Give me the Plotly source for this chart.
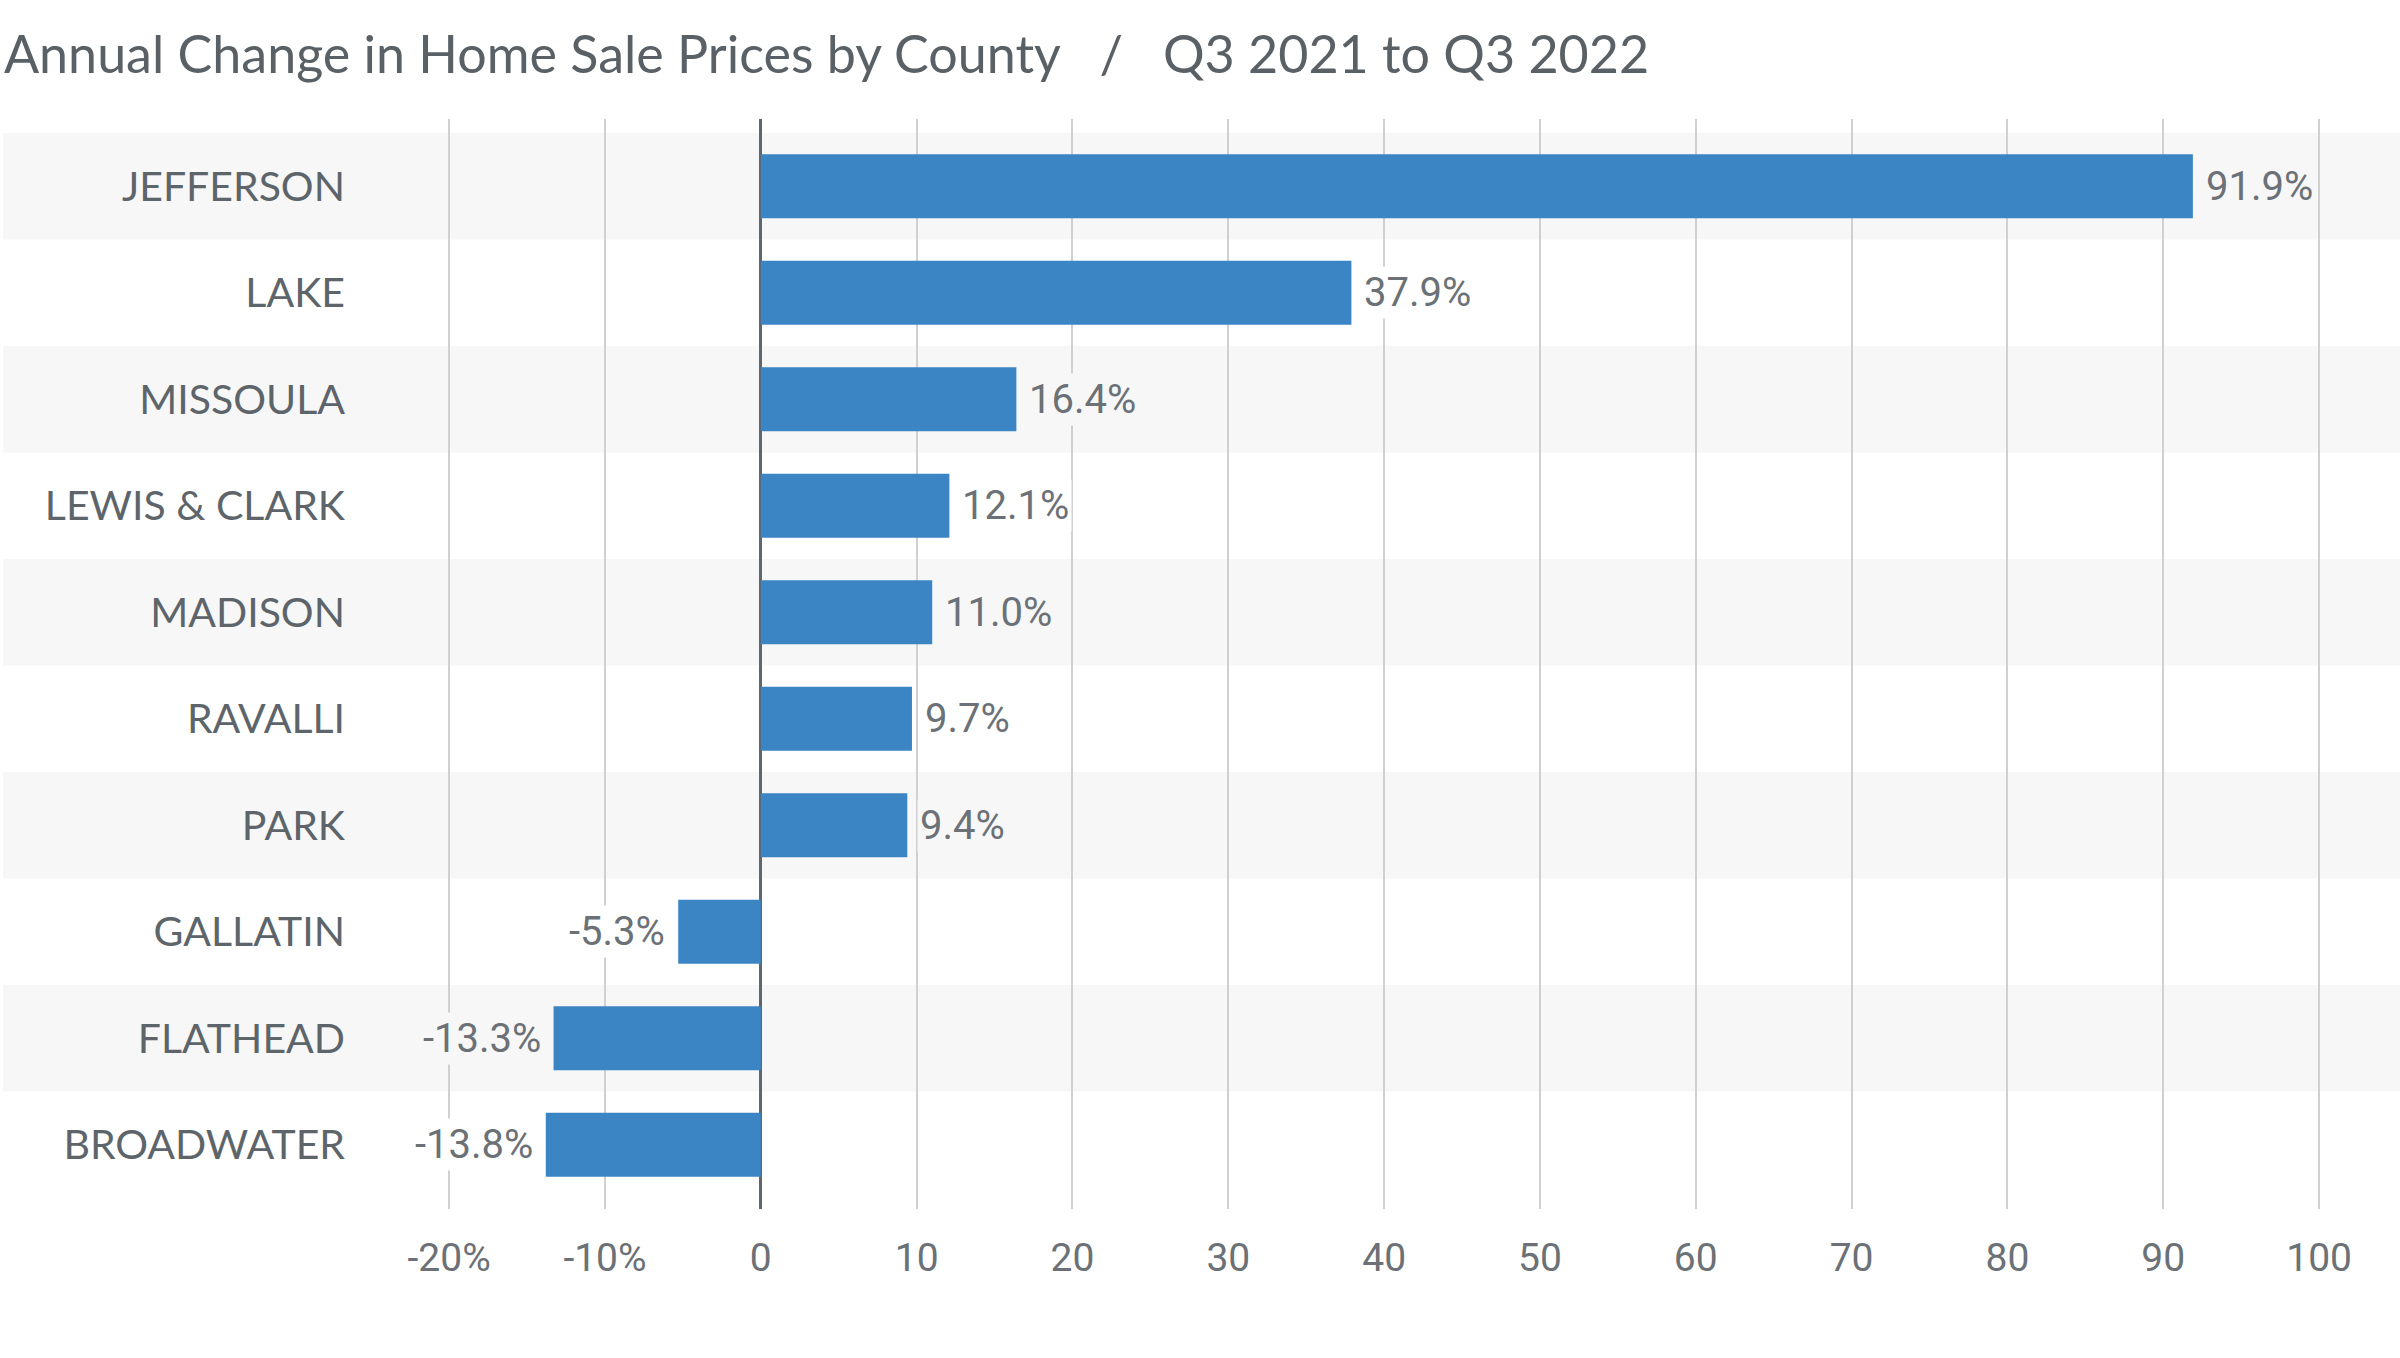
import plotly.graph_objects as go

counties = ["JEFFERSON", "LAKE", "MISSOULA", "LEWIS & CLARK", "MADISON",
            "RAVALLI", "PARK", "GALLATIN", "FLATHEAD", "BROADWATER"]
changes = [91.9, 37.9, 16.4, 12.1, 11.0, 9.7, 9.4, -5.3, -13.3, -13.8]
tick_values = [-20, -10, 0, 10, 20, 30, 40, 50, 60, 70, 80, 90, 100]
tick_labels = ["-20%", "-10%", "0", "10", "20", "30", "40", "50", "60", "70", "80", "90", "100"]
title_text = "Annual Change in Home Sale Prices by County   /   Q3 2021 to Q3 2022"

W, H = 2400, 1358
ML, MR, MT, MB = 418, 3, 119, 149
x_range = [-22, 105]

BAR = "#3b85c5"
BAND = "#f7f7f7"
TXT = "#5d656b"
NUM = "#6b7176"
NUMFONT = "Roboto, sans-serif"

fig = go.Figure()
fig.add_trace(go.Bar(
    x=changes, y=counties, orientation="h",
    marker=dict(color=BAR, line=dict(width=0)),
    width=0.6, hoverinfo="skip", showlegend=False,
))

plot_w = W - ML - MR
px0 = (3 - ML) / plot_w
px1 = (W - ML) / plot_w

shapes = []
for i in range(len(counties)):
    if i % 2 == 0:
        shapes.append(dict(type="rect", xref="paper", yref="y",
                           x0=px0, x1=px1, y0=i - 0.5, y1=i + 0.5,
                           fillcolor=BAND, line=dict(width=0), layer="below"))

annotations = []
for i, (c, v) in enumerate(zip(counties, changes)):
    bg = BAND if i % 2 == 0 else "#ffffff"
    annotations.append(dict(
        x=v, y=c, xref="x", yref="y",
        text=f"{v:.1f}%",
        showarrow=False,
        xanchor="left" if v >= 0 else "right",
        xshift=10 if v >= 0 else -10,
        font=dict(family=NUMFONT, size=40, color=NUM),
        bgcolor=bg, borderpad=2,
    ))

fig.update_layout(
    width=W, height=H,
    margin=dict(l=ML, r=MR, t=MT, b=MB),
    paper_bgcolor="#ffffff",
    plot_bgcolor="rgba(0,0,0,0)",
    bargap=0.4,
    shapes=shapes,
    annotations=annotations,
    title=dict(text=title_text, x=4 / W, xanchor="left", xref="container",
               y=1 - 55 / H, yanchor="middle", yref="container",
               font=dict(family="Lato, sans-serif", size=52, color="#5a6166")),
    xaxis=dict(
        range=x_range, tickmode="array", tickvals=tick_values, ticktext=tick_labels,
        showgrid=True, gridcolor="#d0d0d0", gridwidth=1.5,
        zeroline=True, zerolinecolor="#5f666c", zerolinewidth=3,
        showline=False, ticks="", ticklabelstandoff=22,
        tickfont=dict(family=NUMFONT, size=39, color=NUM),
        fixedrange=True,
    ),
    yaxis=dict(
        categoryorder="array", categoryarray=counties,
        range=[9.603, -0.631],
        showgrid=False, zeroline=False, showline=False, ticks="",
        ticklabelstandoff=72,
        tickfont=dict(family="Lato, sans-serif", size=41, color=TXT),
        fixedrange=True,
    ),
)
fig.write_html("out.html", config={"displayModeBar": False},
               post_script="document.body.style.margin='0';document.body.style.overflow='hidden';")
